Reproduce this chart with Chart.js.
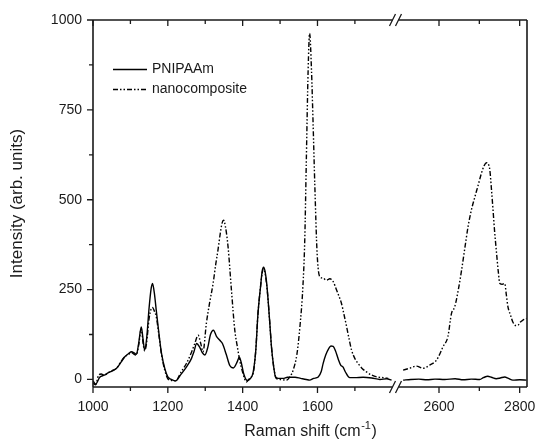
<!DOCTYPE html>
<html>
<head>
<meta charset="utf-8">
<title>Raman spectra</title>
<script src="https://cdn.jsdelivr.net/npm/chart.js@4"></script>
<style>
  html, body { margin: 0; padding: 0; background: #fff; }
  canvas { display: block; }
</style>
</head>
<body>
<canvas id="chart-raman" width="536" height="444"></canvas>
<script>
  // Raman shift (cm-1) and intensity
  const pnipaamLeftX = [1000, 1007, 1018, 1030, 1040, 1052, 1063, 1075, 1085, 1095, 1103, 1110, 1116, 1122, 1129, 1134, 1138, 1143, 1150, 1155, 1159, 1164, 1169, 1176, 1183, 1192, 1200, 1210, 1221, 1235, 1250, 1263, 1270, 1277, 1285, 1292, 1299, 1307, 1314, 1322, 1330, 1339, 1346, 1356, 1366, 1375, 1385, 1391, 1396, 1403, 1412, 1420, 1428, 1435, 1441, 1448, 1452, 1456, 1460, 1464, 1468, 1473, 1477, 1483, 1488, 1495, 1508, 1520, 1540, 1555, 1570, 1579, 1590, 1602, 1610, 1615, 1622, 1630, 1636, 1642, 1648, 1656, 1662, 1668, 1675, 1686, 1700, 1722, 1745, 1767, 1785, 1798];
  const pnipaamLeftY = [-4, -13, 6, 12, 18, 24, 31, 48, 63, 72, 77, 74, 70, 100, 146, 110, 82, 110, 200, 250, 267, 240, 193, 130, 73, 30, 7, 0, -4, 14, 35, 58, 78, 100, 90, 75, 68, 90, 125, 137, 120, 109, 100, 70, 38, 32, 48, 62, 48, 15, -3, 2, 20, 80, 184, 260, 300, 312, 300, 270, 221, 150, 91, 35, 6, 3, 3, 6, 6, 3, 0, -2, 3, 7, 22, 44, 68, 86, 93, 92, 80, 55, 40, 35, 20, 5, 5, 6, 4, 0, 2, -2];
  const pnipaamRightX = [2511, 2530, 2550, 2570, 2590, 2614, 2640, 2660, 2680, 2701, 2710, 2721, 2730, 2742, 2752, 2763, 2772, 2783, 2800, 2817];
  const pnipaamRightY = [-2, 0, 1, -1, 1, 0, 2, -1, 1, 0, 5, 9, 6, 2, 4, 7, 3, -2, -1, -2];

  const nanoLeftX = [1000, 1007, 1015, 1022, 1030, 1040, 1052, 1063, 1075, 1085, 1095, 1103, 1110, 1116, 1122, 1129, 1134, 1138, 1143, 1150, 1155, 1159, 1164, 1169, 1176, 1183, 1192, 1200, 1210, 1221, 1235, 1250, 1263, 1272, 1281, 1288, 1294, 1303, 1312, 1321, 1328, 1334, 1340, 1345, 1349, 1354, 1361, 1370, 1379, 1386, 1392, 1400, 1410, 1420, 1428, 1435, 1441, 1448, 1452, 1456, 1460, 1464, 1468, 1473, 1477, 1483, 1490, 1500, 1517, 1528, 1535, 1545, 1553, 1561, 1566, 1570, 1575, 1579, 1584, 1588, 1593, 1599, 1606, 1615, 1624, 1633, 1642, 1651, 1658, 1664, 1671, 1678, 1685, 1691, 1700, 1709, 1720, 1731, 1745, 1758, 1775, 1789];
  const nanoLeftY = [-10, -15, 12, 15, 12, 18, 25, 31, 50, 63, 70, 75, 70, 68, 95, 140, 100, 80, 100, 170, 195, 200, 190, 175, 125, 70, 25, 2, -3, -4, 20, 45, 75, 100, 123, 100, 77, 156, 215, 267, 320, 360, 405, 435, 443, 425, 369, 249, 137, 90, 54, 20, -7, 5, 17, 80, 184, 260, 295, 308, 295, 265, 221, 150, 91, 35, 3, 0, -2, 10, 26, 70, 146, 258, 388, 600, 860, 963, 860, 722, 536, 351, 286, 282, 276, 280, 272, 249, 230, 212, 180, 146, 110, 82, 58, 44, 30, 21, 12, 7, 5, 3];
  const nanoRightX = [2511, 2527, 2544, 2560, 2577, 2594, 2610, 2622, 2631, 2639, 2648, 2656, 2664, 2672, 2680, 2689, 2697, 2705, 2712, 2718, 2722, 2726, 2730, 2734, 2738, 2742, 2747, 2751, 2757, 2763, 2767, 2771, 2777, 2783, 2790, 2796, 2802, 2808, 2817];
  const nanoRightY = [26, 31, 37, 31, 40, 54, 91, 119, 184, 202, 250, 304, 365, 425, 470, 508, 540, 573, 595, 603, 600, 583, 530, 471, 410, 360, 300, 267, 265, 267, 235, 202, 180, 160, 150, 151, 160, 165, 170];

  const seriesNames = ['PNIPAAm', 'nanocomposite'];
  const xTickValues = [1000, 1100, 1200, 1300, 1400, 1500, 1600, 1700, 2600, 2700, 2800];
  const xTickLabels = ['1000', '', '1200', '', '1400', '', '1600', '', '2600', '', '2800'];
  const yTickValues = [0, 125, 250, 375, 500, 625, 750, 875, 1000];
  const yTickLabels = ['0', '', '250', '', '500', '', '750', '', '1000'];

  // broken x axis: 1800..2500 is cut out, right part is a bit wider per unit
  const BREAK_LO = 1800, BREAK_HI = 2500, BREAK_GAP = 17, RIGHT_STRETCH = 1.078;
  function brk(x) { return x <= BREAK_LO ? x : BREAK_LO + BREAK_GAP + (x - BREAK_HI) * RIGHT_STRETCH; }

  function points(xl, yl, xr, yr) {
    const pts = xl.map((x, i) => ({ x: brk(x), y: yl[i] }));
    pts.push({ x: BREAK_LO + BREAK_GAP / 2, y: null });
    return pts.concat(xr.map((x, i) => ({ x: brk(x), y: yr[i] })));
  }

  const FONT = '"Liberation Sans", Arial, sans-serif';
  const INK = '#1a1a1a';
  const nanoDash = [5, 2, 1.5, 2, 1.5, 2];
  Chart.defaults.font.family = FONT;
  Chart.defaults.color = INK;

  const frame = {
    id: 'frame',
    afterDraw(chart) {
      const { ctx, chartArea: a, scales: { x, y } } = chart;
      const bx = x.getPixelForValue(BREAK_LO + BREAK_GAP / 2);
      ctx.save();
      ctx.strokeStyle = INK;
      ctx.lineWidth = 1.6;
      ctx.setLineDash([]);
      ctx.beginPath();
      ctx.moveTo(a.left, a.top); ctx.lineTo(a.left, a.bottom);
      ctx.moveTo(a.right, a.top); ctx.lineTo(a.right, a.bottom);
      ctx.moveTo(a.left, a.top); ctx.lineTo(bx - 3, a.top);
      ctx.moveTo(bx + 3, a.top); ctx.lineTo(a.right, a.top);
      ctx.moveTo(a.left, a.bottom); ctx.lineTo(bx - 3, a.bottom);
      ctx.moveTo(bx + 3, a.bottom); ctx.lineTo(a.right, a.bottom);
      ctx.stroke();

      // ticks: out on bottom and left, in on top
      ctx.lineWidth = 1.3;
      ctx.beginPath();
      xTickValues.forEach((v, i) => {
        const px = x.getPixelForValue(brk(v));
        const len = xTickLabels[i] ? 6 : 4;
        ctx.moveTo(px, a.bottom); ctx.lineTo(px, a.bottom + len);
        ctx.moveTo(px, a.top); ctx.lineTo(px, a.top + len);
      });
      yTickValues.forEach((v, i) => {
        const py = y.getPixelForValue(v);
        const len = yTickLabels[i] ? 6 : 4;
        ctx.moveTo(a.left - len, py); ctx.lineTo(a.left, py);
      });
      ctx.stroke();

      // break marks
      ctx.beginPath();
      [a.top, a.bottom].forEach(yc => {
        [-3, 3].forEach(dx => {
          ctx.moveTo(bx + dx - 3, yc + 6);
          ctx.lineTo(bx + dx + 3, yc - 6);
        });
      });
      ctx.stroke();

      // legend
      ctx.lineWidth = 1.4;
      ctx.strokeStyle = '#000';
      ctx.beginPath(); ctx.moveTo(113, 69.5); ctx.lineTo(147, 69.5); ctx.stroke();
      ctx.setLineDash(nanoDash);
      ctx.beginPath(); ctx.moveTo(113, 89.5); ctx.lineTo(147, 89.5); ctx.stroke();
      ctx.setLineDash([]);
      ctx.fillStyle = INK;
      ctx.font = '14px ' + FONT;
      ctx.textBaseline = 'middle';
      ctx.textAlign = 'left';
      ctx.fillText(seriesNames[0], 152, 69);
      ctx.fillText(seriesNames[1], 152, 89);

      // x axis title with superscript
      const main = 'Raman shift (cm', sup = '-1', tail = ')';
      ctx.font = '16px ' + FONT;
      const w1 = ctx.measureText(main).width, w3 = ctx.measureText(tail).width;
      ctx.font = '11px ' + FONT;
      const w2 = ctx.measureText(sup).width;
      let tx = (a.left + a.right) / 2 - (w1 + w2 + w3) / 2;
      const ty = 432;
      ctx.font = '16px ' + FONT;
      ctx.fillText(main, tx, ty); tx += w1;
      ctx.font = '11px ' + FONT;
      ctx.fillText(sup, tx + 0.5, ty - 6); tx += w2 + 1;
      ctx.font = '16px ' + FONT;
      ctx.fillText(tail, tx, ty);
      ctx.restore();
    }
  };

  new Chart(document.getElementById('chart-raman'), {
    type: 'line',
    data: {
      datasets: [
        {
          label: seriesNames[1],
          data: points(nanoLeftX, nanoLeftY, nanoRightX, nanoRightY),
          borderColor: '#000',
          borderWidth: 1.4,
          borderDash: nanoDash,
          pointRadius: 0,
          cubicInterpolationMode: 'monotone',
          spanGaps: false,
          fill: false
        },
        {
          label: seriesNames[0],
          data: points(pnipaamLeftX, pnipaamLeftY, pnipaamRightX, pnipaamRightY),
          borderColor: '#000',
          borderWidth: 1.4,
          pointRadius: 0,
          cubicInterpolationMode: 'monotone',
          spanGaps: false,
          fill: false
        }
      ]
    },
    options: {
      responsive: false,
      animation: false,
      events: [],
      layout: { padding: { top: 20, right: 9, left: 0, bottom: 0 } },
      plugins: { legend: { display: false }, tooltip: { enabled: false } },
      scales: {
        x: {
          type: 'linear',
          min: 1000,
          max: 2160,
          afterBuildTicks: (s) => { s.ticks = xTickValues.map(v => ({ value: brk(v) })); },
          afterFit: (s) => { s.height = 57; s.paddingLeft = 0; s.paddingRight = 0; },
          ticks: {
            autoSkip: false,
            maxRotation: 0,
            padding: 12,
            font: { size: 14 },
            color: INK,
            callback: (v, i) => xTickLabels[i]
          },
          grid: { display: false, drawTicks: false, tickLength: 0 },
          border: { display: false }
        },
        y: {
          min: -21,
          max: 1000,
          afterBuildTicks: (s) => { s.ticks = yTickValues.map(v => ({ value: v })); },
          afterFit: (s) => { s.width = 93; s.paddingTop = 0; s.paddingBottom = 0; },
          ticks: {
            autoSkip: false,
            padding: 11,
            font: { size: 14 },
            color: INK,
            callback: (v, i) => yTickLabels[i]
          },
          grid: { display: false, drawTicks: false, tickLength: 0 },
          border: { display: false },
          title: {
            display: true,
            text: 'Intensity (arb. units)',
            font: { size: 17 },
            color: INK,
            padding: { top: 7, bottom: 0 }
          }
        }
      }
    },
    plugins: [frame]
  });
</script>
</body>
</html>
